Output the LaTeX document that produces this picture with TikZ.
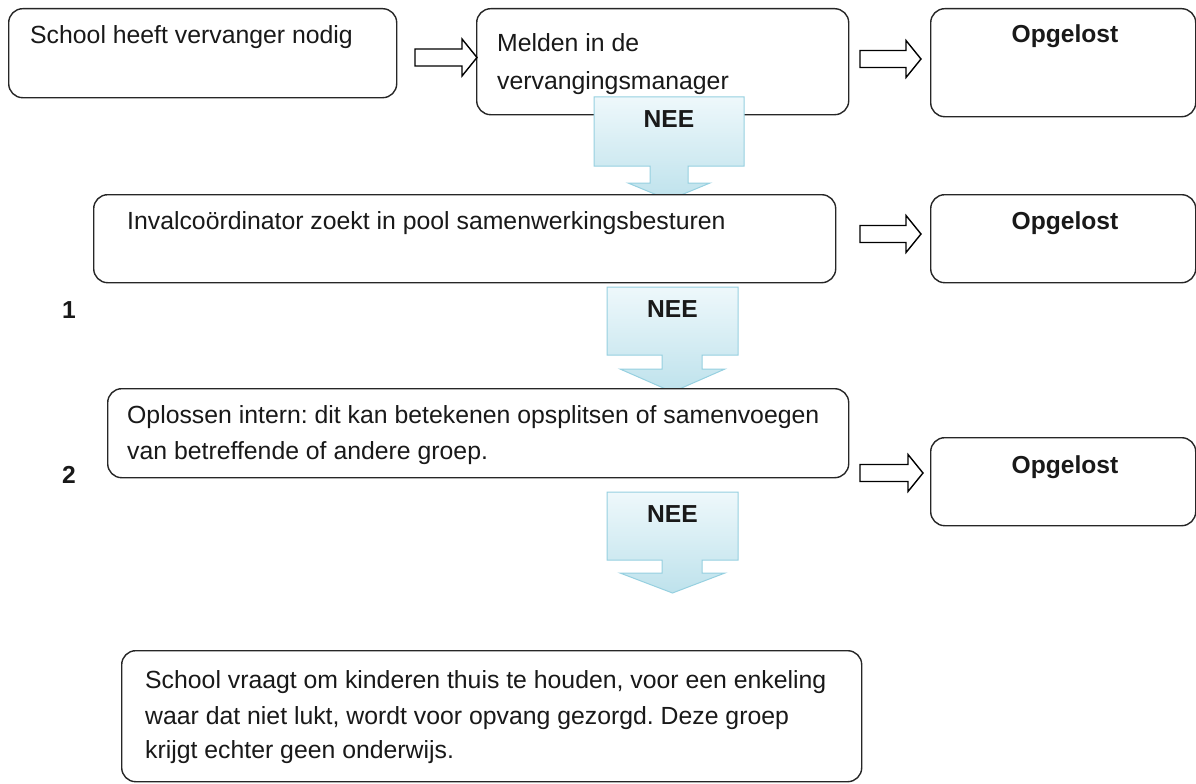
\documentclass[tikz,border=0pt]{standalone}
\usepackage{fontspec}
\setmainfont{Liberation Sans}
\begin{document}
\frenchspacing
\begin{tikzpicture}[x=1bp,y=-1bp,
  box/.style={draw=black!85, line width=1.4bp, rounded corners=14bp, fill=white, anchor=north west, inner sep=0pt},
  txt/.style={anchor=base west, inner sep=0pt, font=\fontsize{24.8bp}{28bp}\selectfont, text=black!90},
  bold/.style={anchor=base, inner sep=0pt, font=\fontsize{24.6bp}{28bp}\selectfont\bfseries, text=black!90},
  wide/.style={draw=black, line width=1.4bp, fill=white},
  nee/.style={draw={rgb,255:red,150;green,208;blue,224}, line width=1bp, top color={rgb,255:red,238;green,248;blue,251}, bottom color={rgb,255:red,190;green,226;blue,236}}
]
\useasboundingbox (0,0) rectangle (1196,784);
\newcommand\rarrow[4]{% x1, x2(body end), x3 (tip), yc
  \draw[wide] (#1,#4-8.5) -- (#2,#4-8.5) -- (#2,#4-18.5) -- (#3,#4) -- (#2,#4+18.5) -- (#2,#4+8.5) -- (#1,#4+8.5) -- cycle;}
\newcommand\neearrow[9]{% left,right,top,bottom, stemL, stemR, headTop, headR, tip
  \path[nee] (#1,#3) -- (#2,#3) -- (#2,#4) -- (#6,#4) -- (#6,#7) -- (#8,#7) -- ({(#1+#2)/2},#9) -- ({#1+#2-#8},#7) -- (#5,#7) -- (#5,#4) -- (#1,#4) -- cycle;}

% row 1
\node[box, minimum width=388bp, minimum height=89bp] (b1) at (8,8) {};
\node[box, minimum width=372bp, minimum height=106bp] (b2) at (476,8) {};
\node[box, minimum width=265bp, minimum height=108bp] (b3) at (930,8) {};
\node[txt] (t1) at (30,44) {School heeft vervanger nodig};
\node[txt] (t2a) at (497,52) {Melden in de};
\node[txt] (t2b) at (497,90) {vervangingsmanager};
\node[bold] (o1) at (1065,43) {Opgelost};
\rarrow{415}{462}{477}{57.5}
\rarrow{860}{906}{921}{59}

% NEE 1
\neearrow{594}{744}{97}{166}{650}{688}{183}{710}{200}
\node[bold] (n1) at (669,127) {NEE};

% row 2
\node[box, minimum width=742bp, minimum height=88bp] (b4) at (93,194) {};
\node[box, minimum width=265bp, minimum height=88bp] (b5) at (930,194) {};
\node[txt] (t4) at (127,229) {Invalcoördinator zoekt in pool samenwerkingsbesturen};
\node[bold] (o2) at (1065,229) {Opgelost};
\rarrow{860}{906}{921}{234}
\node[bold] (l1) at (69,318) {1};

% NEE 2
\neearrow{607}{738}{287}{355}{662}{702}{369}{725}{392}
\node[bold] (n2) at (672.5,317) {NEE};

% row 3
\node[box, minimum width=741bp, minimum height=89bp] (b6) at (107,388) {};
\node[box, minimum width=265bp, minimum height=88bp] (b7) at (930,437) {};
\node[txt] (t6a) at (127,423) {Oplossen intern: dit kan betekenen opsplitsen of samenvoegen};
\node[txt] (t6b) at (127,459) {van betreffende of andere groep.};
\node[bold] (o3) at (1065,473) {Opgelost};
\rarrow{860}{908}{923}{473}
\node[bold] (l2) at (69,483) {2};

% NEE 3
\neearrow{607}{738}{492}{560}{662}{702}{573}{725}{593}
\node[bold] (n3) at (672.5,522) {NEE};

% row 4
\node[box, minimum width=740bp, minimum height=131bp] (b8) at (121,650) {};
\node[txt] (t8a) at (145,688) {School vraagt om kinderen thuis te houden, voor een enkeling};
\node[txt] (t8b) at (145,724) {waar dat niet lukt, wordt voor opvang gezorgd. Deze groep};
\node[txt] (t8c) at (145,758) {krijgt echter geen onderwijs.};
\end{tikzpicture}
\end{document}
